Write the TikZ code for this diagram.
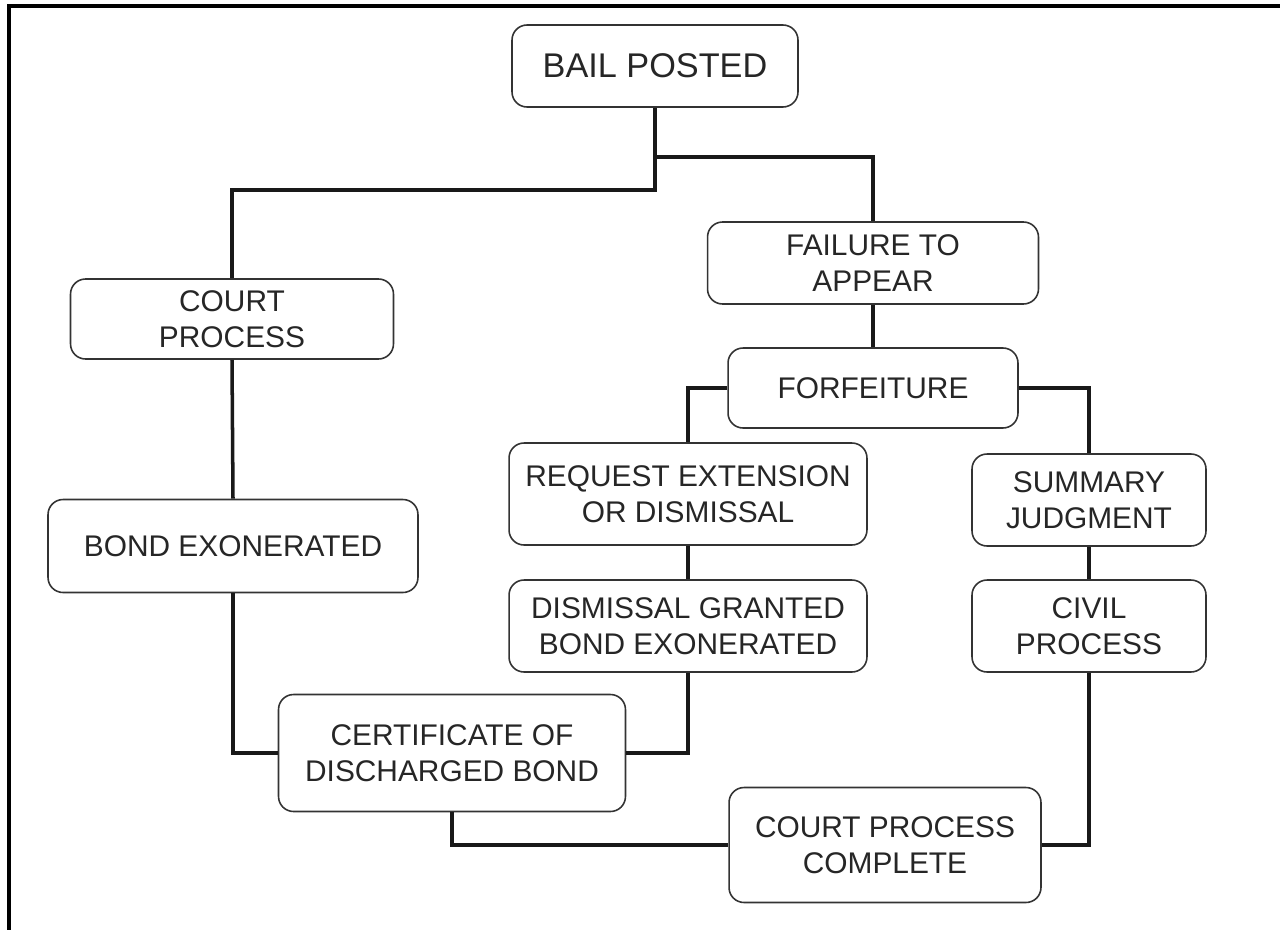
\documentclass[tikz,border=0pt]{standalone}
\usepackage{fontspec}
\setmainfont{Liberation Sans}

\tikzset{
	stage/.style={draw=black!80, line width=0.9pt, rounded corners=0.3cm,
		align=center, text=black!85, inner sep=2pt,
		font=\fontsize{17}{20.5}\selectfont},
	link/.style={line width=2pt, black!90},
}

\begin{document}
\begin{tikzpicture}[x=0.02cm, y=-0.02cm]
		\useasboundingbox (0,0) rectangle (1280,930);
		% frame
		\draw[line width=2pt] (1280,6) -- (9,6) -- (9,930);
		%
		\node[stage, minimum width=5.72cm, minimum height=1.64cm,
			font=\fontsize{19.5}{23}\selectfont] (bail) at (655,66) {BAIL POSTED};
		\node[stage, minimum width=6.46cm, minimum height=1.6cm] (court) at (232,319) {COURT\\PROCESS};
		\node[stage, minimum width=6.62cm, minimum height=1.64cm] (fail) at (873,263) {FAILURE TO\\APPEAR};
		\node[stage, minimum width=5.8cm, minimum height=1.6cm] (forf) at (873,388) {FORFEITURE};
		\node[stage, minimum width=7.16cm, minimum height=2.04cm] (req) at (688,494) {REQUEST EXTENSION\\OR DISMISSAL};
		\node[stage, minimum width=4.68cm, minimum height=1.84cm] (summ) at (1089,500) {SUMMARY\\JUDGMENT};
		\node[stage, minimum width=7.4cm, minimum height=1.86cm] (bond) at (233,546) {BOND EXONERATED};
		\node[stage, minimum width=7.16cm, minimum height=1.84cm] (dism) at (688,626) {DISMISSAL GRANTED\\BOND EXONERATED};
		\node[stage, minimum width=4.68cm, minimum height=1.84cm] (civil) at (1089,626) {CIVIL\\PROCESS};
		\node[stage, minimum width=6.94cm, minimum height=2.34cm] (cert) at (452,753) {CERTIFICATE OF\\DISCHARGED BOND};
		\node[stage, minimum width=6.24cm, minimum height=2.3cm] (done) at (885,845) {COURT PROCESS\\COMPLETE};
		%
		\coordinate (rsplit) at (655,157);
		\coordinate (lsplit) at (655,190);
		%
		\draw[link] (bail.south) -- (lsplit) -| (court.north);
		\draw[link] (rsplit) -| (fail.north);
		\draw[link] (court.south) -- (bond.north);
		\draw[link] (fail.south) -- (forf.north);
		\draw[link] (forf.west) -| (req.north);
		\draw[link] (forf.east) -| (summ.north);
		\draw[link] (req.south) -- (dism.north);
		\draw[link] (summ.south) -- (civil.north);
		\draw[link] (bond.south) |- (cert.west);
		\draw[link] (dism.south) |- (cert.east);
		\draw[link] (cert.south) |- (done.west);
		\draw[link] (civil.south) |- (done.east);
	\end{tikzpicture}
\end{document}
